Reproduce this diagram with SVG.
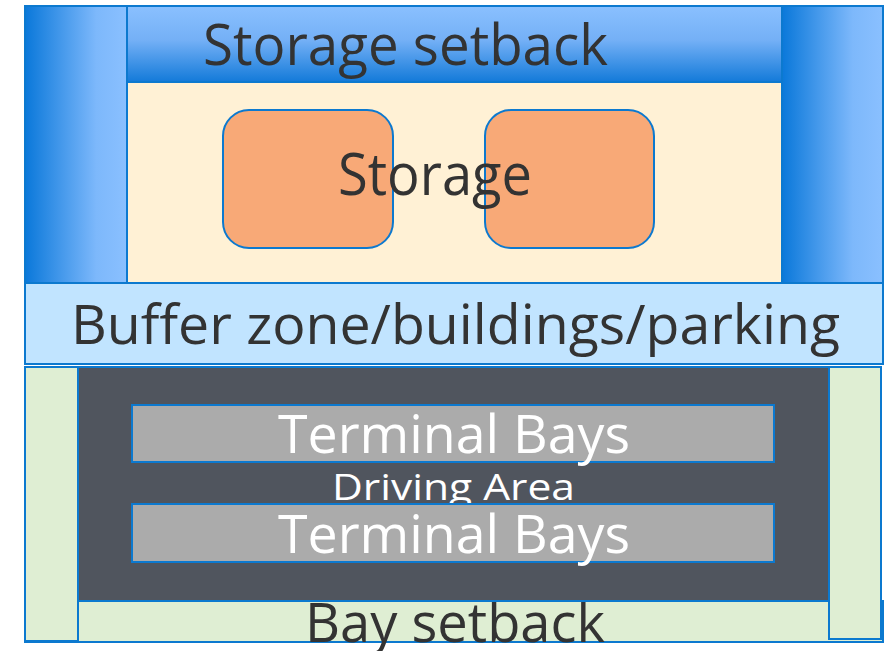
<svg xmlns="http://www.w3.org/2000/svg" width="892" height="651" viewBox="0 0 892 651">
  <defs>
    <linearGradient id="gradBand" x1="0" y1="0" x2="0" y2="1">
      <stop offset="0" stop-color="#8AC0FF"/>
      <stop offset="0.45" stop-color="#74B0F6"/>
      <stop offset="1" stop-color="#137AD9"/>
    </linearGradient>
    <linearGradient id="gradSide" x1="0" y1="0" x2="1" y2="0">
      <stop offset="0" stop-color="#0A78DA"/>
      <stop offset="0.7" stop-color="#7DB8FB"/>
      <stop offset="1" stop-color="#8AC0FF"/>
    </linearGradient>
    <style>
      .edge { stroke: #0C79CF; stroke-width: 2; }
      .dark { fill: #333333; font-family: "Open Sans", "Liberation Sans", sans-serif; }
      .light { fill: #FFFFFF; font-family: "Open Sans", "Liberation Sans", sans-serif; }
      .bin { fill: #F8A977; stroke: #0C79CF; stroke-width: 2; }
    </style>
  </defs>

  <rect width="892" height="651" fill="#FFFFFF"/>

  <!-- upper storage yard -->
  <g id="storage-yard">
    <rect class="edge" x="127" y="82" width="655" height="201" fill="#FFF1D5"/>
    <rect class="edge" x="25" y="6" width="102" height="277" fill="url(#gradSide)"/>
    <rect class="edge" x="782" y="6" width="101" height="277" fill="url(#gradSide)"/>
  </g>

  <g id="storage-setback">
    <rect class="edge" x="127" y="6" width="655" height="76" fill="url(#gradBand)"/>
    <text class="dark" x="203" y="65" font-size="57" textLength="405" lengthAdjust="spacingAndGlyphs">Storage setback</text>
  </g>

  <g id="storage">
    <rect class="bin" x="223" y="110" width="170" height="138" rx="26"/>
    <rect class="bin" x="485" y="110" width="169" height="138" rx="26"/>
    <text class="dark" x="338" y="195" font-size="58" textLength="194" lengthAdjust="spacingAndGlyphs">Storage</text>
  </g>

  <g id="buffer-zone">
    <rect class="edge" x="25" y="283" width="858" height="81" fill="#C1E4FF"/>
    <text class="dark" x="71" y="344" font-size="55" textLength="769" lengthAdjust="spacingAndGlyphs">Buffer zone/buildings/parking</text>
  </g>

  <!-- lower terminal yard -->
  <g id="bay-setback">
    <rect class="edge" x="25" y="601" width="858" height="41" fill="#DFEED3"/>
    <rect class="edge" x="25" y="367" width="53" height="274" fill="#DFEED3"/>
    <rect class="edge" x="829" y="367" width="52" height="272" fill="#DFEED3"/>
    <text class="dark" x="305" y="642" font-size="55" textLength="300" lengthAdjust="spacingAndGlyphs">Bay setback</text>
  </g>

  <g id="driving-area">
    <rect class="edge" x="78" y="367" width="751" height="234" fill="#50555E"/>
    <text class="light" x="332" y="500" font-size="36" textLength="243" lengthAdjust="spacingAndGlyphs">Driving Area</text>
  </g>

  <g id="terminal-bays-1">
    <rect class="edge" x="132" y="405" width="642" height="57" fill="#ABABAB"/>
    <text class="light" x="278" y="453" font-size="53" textLength="352" lengthAdjust="spacingAndGlyphs">Terminal Bays</text>
  </g>

  <g id="terminal-bays-2">
    <rect class="edge" x="132" y="504" width="642" height="58" fill="#ABABAB"/>
    <text class="light" x="278" y="553" font-size="53" textLength="352" lengthAdjust="spacingAndGlyphs">Terminal Bays</text>
  </g>
</svg>
